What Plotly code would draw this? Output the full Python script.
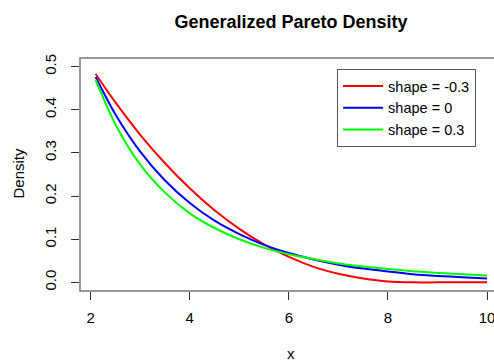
import plotly.graph_objects as go

x_vals = [2.1, 2.5, 3.0, 3.5, 4.0, 4.5, 5.0, 5.5, 6.0, 6.5, 7.0, 7.5, 8.0, 8.5, 9.0, 9.5, 10.0]
dens_neg = [0.483, 0.417, 0.342, 0.276, 0.218, 0.167, 0.124, 0.088, 0.059, 0.036, 0.020, 0.009, 0.002, 0.0001, 0.0, 0.0, 0.0]
dens_zero = [0.476, 0.389, 0.303, 0.236, 0.184, 0.143, 0.112, 0.087, 0.068, 0.053, 0.041, 0.032, 0.025, 0.019, 0.015, 0.012, 0.009]
dens_pos = [0.469, 0.366, 0.273, 0.208, 0.160, 0.126, 0.100, 0.080, 0.065, 0.054, 0.044, 0.037, 0.031, 0.026, 0.022, 0.019, 0.016]

series_names = ["shape = -0.3", "shape = 0", "shape = 0.3"]
series_colors = ["#ff0000", "#0000ff", "#00ff00"]
x_ticks = [2, 4, 6, 8, 10]
y_ticks = [0.0, 0.1, 0.2, 0.3, 0.4, 0.5]
y_tick_text = ["0.0", "0.1", "0.2", "0.3", "0.4", "0.5"]

FONT = "Arial, Liberation Sans, sans-serif"

fig = go.Figure()
for name, ys, col in zip(series_names, [dens_neg, dens_zero, dens_pos], series_colors):
    fig.add_trace(go.Scatter(
        x=x_vals, y=ys, mode="lines", name=name,
        line=dict(color=col, width=2, shape="spline", smoothing=0.8),
    ))

fig.update_layout(
    width=494, height=362,
    margin=dict(l=80, r=0, t=58, b=71),
    paper_bgcolor="white", plot_bgcolor="white",
    font=dict(family=FONT, color="#000000", size=15),
    title=dict(text="<b>Generalized Pareto Density</b>", x=0.5097, xref="paper",
               y=1 - 22 / 362, yref="container", xanchor="center", yanchor="middle",
               font=dict(size=18, family=FONT, color="#000000")),
    showlegend=True,
    legend=dict(x=0.621, y=0.953, xanchor="left", yanchor="top",
                bgcolor="white", bordercolor="#555555", borderwidth=1,
                font=dict(size=14.5, family=FONT), itemwidth=40,
                entrywidth=100, entrywidthmode="pixels",
                tracegroupgap=0),
    xaxis=dict(range=[1.784, 10.141], tickvals=x_ticks, ticktext=[str(v) for v in x_ticks],
               showgrid=False, zeroline=False, showline=False,
               ticks="outside", ticklen=8, tickcolor="#333333", tickwidth=1,
               ticklabelstandoff=5, ticklabeloverflow="allow", automargin=False,
               tickfont=dict(size=15, family=FONT)),
    yaxis=dict(range=[-0.02, 0.52], tickvals=y_ticks, ticktext=y_tick_text,
               showgrid=False, zeroline=False, showline=False,
               ticks="outside", ticklen=8, tickcolor="#333333", tickwidth=1,
               tickangle=-90, ticklabelstandoff=9, automargin=False,
               tickfont=dict(size=15, family=FONT)),
    shapes=[dict(type="rect", xref="paper", yref="paper", x0=0, x1=1.1, y0=0, y1=1,
                 line=dict(color="#777777", width=1.5), layer="above")],
    annotations=[
        dict(text="x", xref="paper", yref="paper", x=(291 - 80) / 414, y=(291 - 353) / 233,
             xanchor="center", yanchor="middle", showarrow=False, font=dict(size=15)),
        dict(text="Density", xref="paper", yref="paper", x=(17.5 - 80) / 414, y=(291 - 173) / 233,
             xanchor="center", yanchor="middle", textangle=-90, showarrow=False, font=dict(size=15)),
    ],
)

fig.write_html("out.html")
